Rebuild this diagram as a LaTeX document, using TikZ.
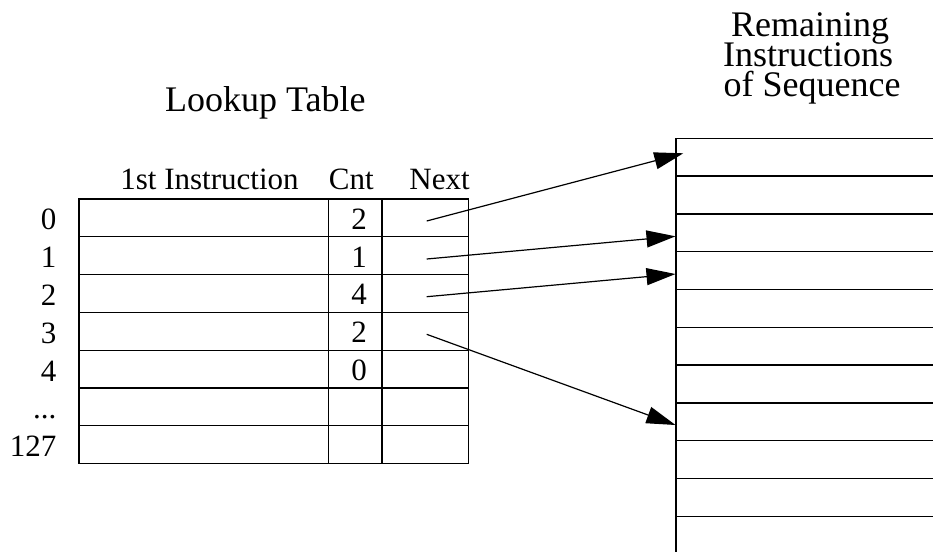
\documentclass[tikz,border=0pt]{standalone}
\usepackage{fontspec}
\setmainfont{Liberation Serif}
\usetikzlibrary{arrows.meta}
\begin{document}
\begin{tikzpicture}[x=1pt,y=-1pt,line width=1.35pt,
  tbl/.style={font=\fontsize{31}{36}\selectfont,inner sep=0pt,anchor=base},
  rlab/.style={tbl,anchor=base east},
  ttl/.style={font=\fontsize{36}{30}\selectfont,inner sep=0pt,anchor=base},
  ptr/.style={-{Triangle[length=29pt,width=17pt]},line width=1.2pt}]
\useasboundingbox (0,0) rectangle (933,552);
% titles
\node[ttl] (lt) at (265.3,111.7) {Lookup Table};
\node[ttl,text depth=0pt] (r1) at (810,36.5) {Remaining};
\node[ttl,text depth=0pt] (r2) at (808,66) {Instructions};
\node[ttl] (r3) at (812,96.5) {of Sequence};
% headers
\node[tbl] (h1) at (209.5,189) {1st Instruction};
\node[tbl] (h2) at (351.3,189) {Cnt};
\node[tbl] (h3) at (439.5,189) {Next};
% lookup table
\draw (79,199) rectangle (468.3,463.6);
\foreach \k in {1,...,6} \draw (79,{199+37.8*\k}) -- (468.3,{199+37.8*\k});
\draw (328.5,199) -- (328.5,463.6);
\draw (382,199) -- (382,463.6);
% row labels
\node[rlab] (n0) at (57,229.8) {0};
\node[rlab] (n1) at (57,267.6) {1};
\node[rlab] (n2) at (57,305.4) {2};
\node[rlab] (n3) at (57,343.2) {3};
\node[rlab] (n4) at (57,381.0) {4};
\node[rlab] (n5) at (57,418.8) {...};
\node[rlab] (n6) at (57,456.6) {127};
% counts
\foreach \t [count=\k from 0] in {2,1,4,2,0}
  \node[tbl] (c\k) at (359,{199+37.8*(\k+1)-7.5}) {\t};
% remaining instructions
\draw (933,138.3) -- (676,138.3) -- (676,552);
\foreach \k in {1,...,10} \draw (676,{138.3+37.8*\k}) -- (933,{138.3+37.8*\k});
% pointers
\coordinate (s0) at (426.7,221);
\coordinate (s1) at (426.7,259);
\coordinate (s2) at (426.7,296.7);
\coordinate (s3) at (426.7,334.3);
\coordinate (t0) at (683.3,153.3);
\coordinate (t1) at (675.5,236.3);
\coordinate (t2) at (675.5,274);
\coordinate (t3) at (675.5,425);
\draw[ptr] (s0) -- (t0);
\draw[ptr] (s1) -- (t1);
\draw[ptr] (s2) -- (t2);
\draw[ptr] (s3) -- (t3);
\end{tikzpicture}
\end{document}
